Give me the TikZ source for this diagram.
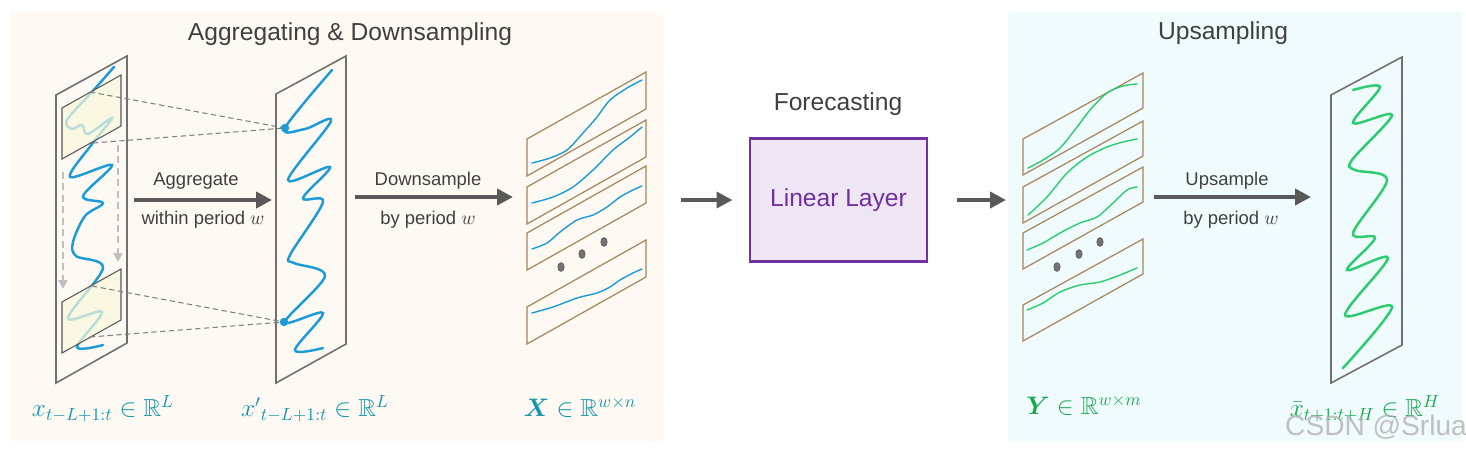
\documentclass[tikz,border=0pt]{standalone}
\usepackage{amsmath,amssymb,bm}
\usepackage{fontspec}
\setmainfont{Liberation Sans}
\usetikzlibrary{arrows.meta,positioning}

\definecolor{bgwarm}{RGB}{254,249,243}
\definecolor{bgcool}{RGB}{240,251,253}
\definecolor{waveblue}{RGB}{28,155,215}
\definecolor{wavegreen}{RGB}{46,204,113}
\definecolor{labteal}{RGB}{22,150,172}
\definecolor{labgreen}{RGB}{25,170,80}
\definecolor{arrowgray}{RGB}{89,89,89}
\definecolor{framegray}{RGB}{112,112,112}
\definecolor{striptan}{RGB}{166,134,96}
\definecolor{winfill}{RGB}{249,247,220}
\definecolor{layerfill}{RGB}{238,230,245}
\definecolor{layerpurple}{RGB}{112,48,160}
\definecolor{titlegray}{RGB}{64,64,64}

\tikzset{
  frame/.style={draw=framegray, line width=0.9pt},
  window/.style={draw=black!65, fill=winfill, fill opacity=0.72, line width=0.6pt},
  strip/.style={draw=striptan, line width=0.7pt},
  bluewave/.style={waveblue, line width=1.4pt, line cap=round},
  greenwave/.style={wavegreen, line width=1.4pt, line cap=round},
  thinblue/.style={waveblue, line width=0.8pt, line cap=round},
  thingreen/.style={wavegreen, line width=0.8pt, line cap=round},
  bigarrow/.style={arrowgray, line width=2.8pt, -{Triangle[length=9pt,width=9pt]}},
  guide/.style={draw=gray, line width=0.6pt, dash pattern=on 3pt off 2pt},
  slide/.style={draw=black!25, line width=1.3pt, dash pattern=on 4pt off 2.5pt, -{Triangle[length=5pt,width=5pt]}},
  lbl/.style={font=\fontsize{10.5}{12}\selectfont, text=titlegray},
  ttl/.style={font=\fontsize{14}{16}\selectfont, text=titlegray},
  mlbl/.style={font=\fontsize{14}{16}\selectfont},
  layer/.style={draw=layerpurple, fill=layerfill, line width=1.2pt, minimum width=3.54cm,
    minimum height=2.46cm, text=layerpurple, font=\fontsize{14}{16}\selectfont},
  dotfill/.style={fill=black!55, draw=black!70, line width=0.3pt},
}

\begin{document}
\begin{tikzpicture}[x=0.02cm,y=-0.02cm]
 \useasboundingbox (0,0) rectangle (1466,451);
 % panels behind
 \fill[bgwarm] (10,12) rectangle (663,441);
 \fill[bgcool] (1008,12) rectangle (1462,441);
 \node[ttl] (ttl-agg) at (350,34) {Aggregating \& Downsampling};
 \node[ttl] (ttl-up) at (1223,33) {Upsampling};

 % input series
 \draw[frame] (56,95) -- (127,56) -- (127,343) -- (56,383) -- cycle;
 \draw[bluewave] plot[smooth, tension=0.55] coordinates {(114,67) (92,92) (67,120) (72,129) (82,125) (88,134)
   (112,118) (92,144) (70,177) (112,165) (83,196) (103,203) (85,216) (73,242) (76,256) (103,268)
   (68,318) (102,312) (77,347) (103,345)};
 \draw[window] (62,108) -- (121,75) -- (121,126) -- (62,159) -- cycle;
 \draw[window] (62,302) -- (121,269) -- (121,320) -- (62,353) -- cycle;
 \coordinate (s1) at (63,172);  \coordinate (s1e) at (63,289);
 \coordinate (s2) at (118,145); \coordinate (s2e) at (118,262);
 \draw[slide] (s1) -- (s1e);
 \draw[slide] (s2) -- (s2e);

 % aggregated series
 \draw[frame] (276,94) -- (346,56) -- (346,344) -- (276,383) -- cycle;
 \draw[bluewave] plot[smooth, tension=0.55] coordinates {(332,70) (285,128) (305,129) (331,121) (288,180)
   (330,167) (303,198) (323,202) (290,255) (294,263) (325,276) (285,322) (323,313) (295,350) (323,348)};
 \coordinate (d1) at (285,128);
 \coordinate (d2) at (284,322);
 \coordinate (w1a) at (90,92);  \coordinate (w1b) at (93,143);
 \coordinate (w2a) at (92,286); \coordinate (w2b) at (90,337);
 \draw[guide] (w1a) -- (d1);
 \draw[guide] (w1b) -- (d1);
 \draw[guide] (w2a) -- (d2);
 \draw[guide] (w2b) -- (d2);
 \fill[waveblue] (d1) circle (4.2);
 \fill[waveblue] (d2) circle (4.2);

 % segments X
 \foreach \dy in {0,48,94,168}
   \draw[strip] (527,139+\dy) -- ++(119,-67) -- ++(0,37) -- ++(-119,67) -- cycle;
 \begin{scope}[shift={(527,139)}]
  \draw[thinblue] plot[smooth] coordinates {(5,24) (23,19) (40,11) (56,-6) (70,-22) (83,-39) (100,-51) (115,-59)};
 \end{scope}
 \begin{scope}[shift={(527,187)}]
  \draw[thinblue] plot[smooth] coordinates {(5,16) (26,10) (46,0) (66,-17) (86,-37) (103,-50) (115,-60)};
 \end{scope}
 \begin{scope}[shift={(527,233)}]
  \draw[thinblue] plot[smooth] coordinates {(5,16) (20,10) (33,-1) (50,-13) (66,-18) (80,-26) (93,-36) (106,-43) (115,-47)};
 \end{scope}
 \begin{scope}[shift={(527,307)}]
  \draw[thinblue] plot[smooth] coordinates {(5,6) (26,0) (50,-9) (70,-14) (83,-20) (93,-27) (106,-34) (115,-38)};
 \end{scope}
 \foreach \px/\py in {561/267,582/254,604/242}
   \draw[dotfill] (\px,\py) ellipse [x radius=3.2, y radius=4.4];

 % segments Y
 \foreach \dy in {0,48,94,166}
   \draw[strip] (1023,139+\dy) -- ++(120,-66) -- ++(0,35) -- ++(-120,67) -- cycle;
 \begin{scope}[shift={(1023,139)}]
  \draw[thingreen] plot[smooth] coordinates {(5,29) (20,21) (37,9) (54,-12) (67,-29) (84,-46) (100,-53) (114,-55)};
 \end{scope}
 \begin{scope}[shift={(1023,187)}]
  \draw[thingreen] plot[smooth] coordinates {(5,28) (24,10) (44,-14) (64,-30) (84,-40) (100,-45) (114,-48)};
 \end{scope}
 \begin{scope}[shift={(1023,233)}]
  \draw[thingreen] plot[smooth] coordinates {(4,17) (20,10) (37,0) (57,-10) (74,-16) (90,-30) (104,-43) (114,-46)};
 \end{scope}
 \begin{scope}[shift={(1023,305)}]
  \draw[thingreen] plot[smooth] coordinates {(4,5) (20,-2) (37,-13) (57,-20) (77,-23) (97,-30) (114,-37)};
 \end{scope}
 \foreach \px/\py in {1057/267,1079/254,1100/242}
   \draw[dotfill] (\px,\py) ellipse [x radius=3.2, y radius=4.4];

 % output series
 \draw[frame] (1331,95) -- (1402,57) -- (1402,345) -- (1331,383) -- cycle;
 \draw[greenwave] plot[smooth, tension=0.55] coordinates {(1353,90) (1380,87) (1353,123) (1392,115) (1352,160)
   (1355,170) (1387,180) (1353,233) (1375,238) (1347,270) (1388,258) (1345,315) (1392,307) (1343,368)};

 % forecasting block
 \node[layer] (lin) at (838.5,200) {Linear Layer};
 \node[ttl] (ttl-fc) at (838,104) {Forecasting};

 % arrows
 \coordinate (agg-s) at (134,200);  \coordinate (agg-e) at (272,200);
 \coordinate (dwn-s) at (355,197);  \coordinate (dwn-e) at (513,197);
 \coordinate (fin-s) at (681,200);  \coordinate (fout-e) at (1006,200);
 \coordinate (ups-s) at (1154,197); \coordinate (ups-e) at (1311,197);
 \draw[bigarrow] (agg-s) -- (agg-e);
 \draw[bigarrow] (dwn-s) -- (dwn-e);
 \draw[bigarrow, shorten >=16.5*0.02cm] (fin-s) -- (lin.west);
 \draw[bigarrow, shorten <=28.5*0.02cm] (lin.east) -- (fout-e);
 \draw[bigarrow] (ups-s) -- (ups-e);

 \node[lbl] (agg-t) at (196,181) {Aggregate};
 \node[lbl] (agg-b) at (203,220) {within period $w$};
 \node[lbl] (dwn-t) at (428,181) {Downsample};
 \node[lbl] (dwn-b) at (428,220) {by period $w$};
 \node[lbl] (ups-t) at (1227,181) {Upsample};
 \node[lbl] (ups-b) at (1231,220) {by period $w$};

 % shapes
 \node[mlbl, text=labteal] (lab-in) at (103,409) {$x_{t-L+1:t}\in\mathbb{R}^L$};
 \node[mlbl, text=labteal] (lab-agg) at (315,409) {${x'}_{t-L+1:t}\in\mathbb{R}^L$};
 \node[mlbl, text=labteal] (lab-X) at (580,407) {$\bm{X}\in\mathbb{R}^{w\times n}$};
 \node[mlbl, text=labgreen] (lab-Y) at (1084,405) {$\bm{Y}\in\mathbb{R}^{w\times m}$};
 \node[mlbl, text=labgreen] (lab-out) at (1365,409) {$\bar{x}_{t+1:t+H}\in\mathbb{R}^H$};
 \node[text=black!30, opacity=0.8, font=\fontsize{16}{18}\selectfont] (mark) at (1376,427) {CSDN @Srlua};
\end{tikzpicture}
\end{document}
